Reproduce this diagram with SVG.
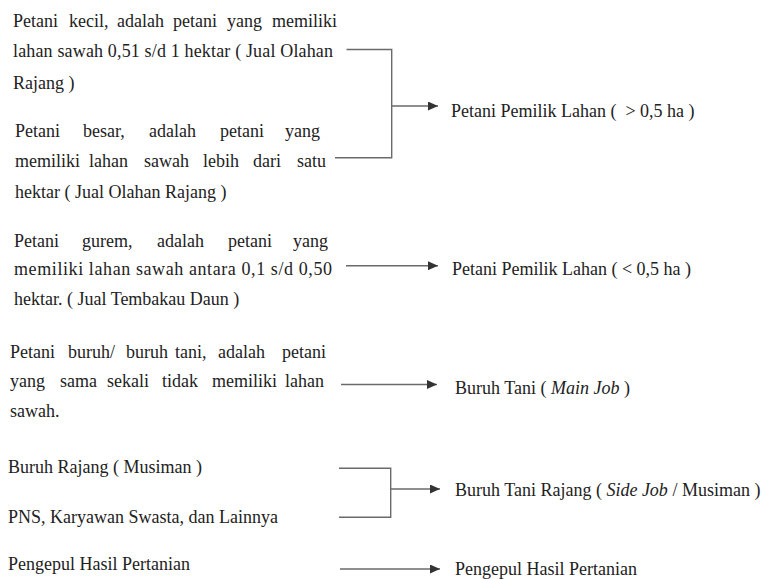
<svg xmlns="http://www.w3.org/2000/svg" width="772" height="579" viewBox="0 0 772 579" font-family="'Liberation Serif', 'DejaVu Serif', serif">
  <style>
    text { font-family: "Liberation Serif", "DejaVu Serif", serif; font-size: 18px; fill: #222222; }
    .it { font-style: italic; }
    .wire { fill: none; stroke: #6a6a6a; stroke-width: 1.4; }
  </style>
  <defs>
    <marker id="arrow" markerUnits="userSpaceOnUse" markerWidth="11" markerHeight="9" refX="10" refY="4.5" orient="auto">
      <path d="M0,0 L10,4.5 L0,9 Z" fill="#333333"/>
    </marker>
  </defs>
  <rect width="772" height="579" fill="#ffffff"/>

  <!-- source categories (left column) -->
  <g id="petani-kecil">
    <text y="27"><tspan x="13">Petani</tspan><tspan x="69">kecil,</tspan><tspan x="117">adalah</tspan><tspan x="173">petani</tspan><tspan x="227">yang</tspan><tspan x="272">memiliki</tspan></text>
    <text x="13" y="57" textLength="320" lengthAdjust="spacing">lahan sawah 0,51 s/d 1 hektar ( Jual Olahan</text>
    <text x="13" y="89">Rajang )</text>
  </g>
  <g id="petani-besar">
    <text y="137"><tspan x="15">Petani</tspan><tspan x="83">besar,</tspan><tspan x="149">adalah</tspan><tspan x="220">petani</tspan><tspan x="285">yang</tspan></text>
    <text y="167"><tspan x="15">memiliki</tspan><tspan x="89">lahan</tspan><tspan x="144">sawah</tspan><tspan x="203">lebih</tspan><tspan x="253">dari</tspan><tspan x="297">satu</tspan></text>
    <text x="15" y="198">hektar ( Jual Olahan Rajang )</text>
  </g>
  <g id="petani-gurem">
    <text y="247"><tspan x="14">Petani</tspan><tspan x="82">gurem,</tspan><tspan x="157">adalah</tspan><tspan x="228">petani</tspan><tspan x="293">yang</tspan></text>
    <text x="14" y="275" textLength="318" lengthAdjust="spacing">memiliki lahan sawah antara 0,1 s/d 0,50</text>
    <text x="14" y="305">hektar. ( Jual Tembakau Daun )</text>
  </g>
  <g id="petani-buruh">
    <text y="358"><tspan x="10">Petani</tspan><tspan x="68">buruh/</tspan><tspan x="126">buruh</tspan><tspan x="175">tani,</tspan><tspan x="218">adalah</tspan><tspan x="282">petani</tspan></text>
    <text y="387"><tspan x="10">yang</tspan><tspan x="60">sama</tspan><tspan x="107">sekali</tspan><tspan x="162">tidak</tspan><tspan x="212">memiliki</tspan><tspan x="285">lahan</tspan></text>
    <text x="10" y="417">sawah.</text>
  </g>
  <g id="buruh-rajang">
    <text x="8" y="473">Buruh Rajang ( Musiman )</text>
  </g>
  <g id="pns-swasta">
    <text x="8" y="523">PNS, Karyawan Swasta, dan Lainnya</text>
  </g>
  <g id="pengepul-src">
    <text x="8" y="570">Pengepul Hasil Pertanian</text>
  </g>

  <!-- resulting groups (right column) -->
  <g id="pemilik-besar">
    <text x="451" y="117" xml:space="preserve">Petani Pemilik Lahan (  &gt; 0,5 ha )</text>
  </g>
  <g id="pemilik-kecil">
    <text x="452" y="275">Petani Pemilik Lahan ( &lt; 0,5 ha )</text>
  </g>
  <g id="buruh-tani">
    <text x="455" y="394">Buruh Tani ( <tspan class="it">Main Job</tspan> )</text>
  </g>
  <g id="buruh-tani-rajang">
    <text x="455" y="496">Buruh Tani Rajang ( <tspan class="it">Side Job</tspan> / Musiman )</text>
  </g>
  <g id="pengepul">
    <text x="455" y="575">Pengepul Hasil Pertanian</text>
  </g>

  <!-- connectors -->
  <g id="connectors">
    <path class="wire" d="M346.5,49.5 H391.7 V157.7 H335"/>
    <path class="wire" d="M391.7,106 H438" marker-end="url(#arrow)"/>
    <path class="wire" d="M346,265.7 H438" marker-end="url(#arrow)"/>
    <path class="wire" d="M341,384.5 H437" marker-end="url(#arrow)"/>
    <path class="wire" d="M339,468.3 H390.7 V517.3 H339"/>
    <path class="wire" d="M390.7,489 H440" marker-end="url(#arrow)"/>
    <path class="wire" d="M340,569 H440" marker-end="url(#arrow)"/>
  </g>
</svg>
